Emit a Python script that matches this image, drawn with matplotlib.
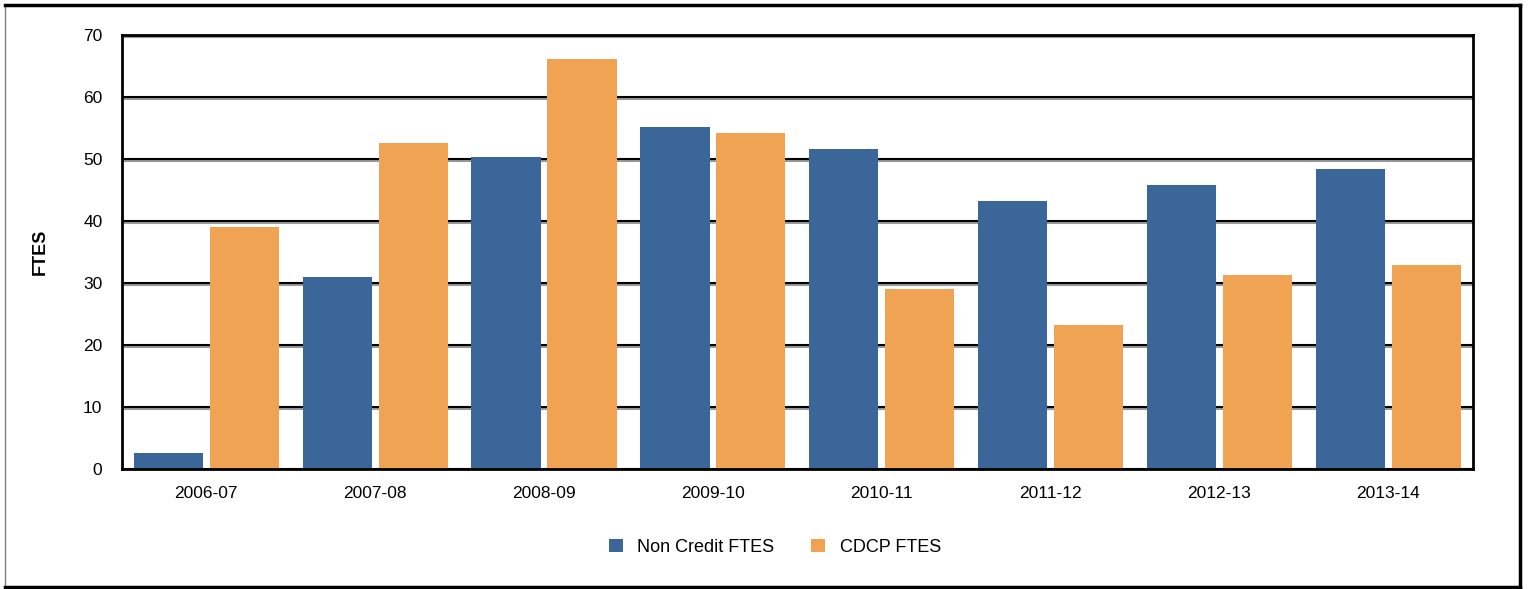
import numpy as np
import matplotlib
matplotlib.use("Agg")
import matplotlib.pyplot as plt
import matplotlib.patheffects as pe
from matplotlib.lines import Line2D

plt.rcParams['font.family'] = ['Liberation Sans', 'DejaVu Sans']

years = ["2006-07", "2007-08", "2008-09", "2009-10",
         "2010-11", "2011-12", "2012-13", "2013-14"]
non_credit = [2.6, 31.0, 50.3, 55.2, 51.6, 43.2, 45.8, 48.4]
cdcp = [39.0, 52.6, 66.1, 54.2, 29.0, 23.2, 31.3, 32.9]

blue = "#3A6699"
orange = "#F0A352"

fig = plt.figure(figsize=(15.28, 5.89), dpi=100)
ax = fig.add_axes([0.0798, 0.2037, 0.884, 0.7369])

x = np.arange(len(years))
w = 0.41
ax.bar(x - 0.225, non_credit, w, color=blue, label="Non Credit FTES", zorder=3)
ax.bar(x + 0.225, cdcp, w, color=orange, label="CDCP FTES", zorder=3)

ax.set_xlim(-0.5, len(years) - 0.5)
ax.set_ylim(0, 70)
ax.set_yticks(range(0, 71, 10))
ax.set_xticks(x)
ax.set_xticklabels(years)
ax.tick_params(length=0, labelsize=12.5, pad=12)
ax.tick_params(axis="y", pad=14)

shadow = [pe.SimpleLineShadow(offset=(1, -1.5), shadow_color="0.6", alpha=1), pe.Normal()]
ax.yaxis.grid(True, color="black", linewidth=1.5, zorder=1, path_effects=shadow)
for s in ax.spines.values():
    s.set_linewidth(2)
    s.set_color("black")
    s.set_zorder(4)

ax.set_ylabel("FTES", fontsize=13, fontweight="bold")
ax.yaxis.set_label_coords(-0.054, 0.5)

fig.legend(loc="center", bbox_to_anchor=(0.507, 0.071), ncol=2, frameon=False,
           fontsize=13, handlelength=0.8, handleheight=0.8, columnspacing=2.0,
           handletextpad=0.8)

# outer frame
fig.add_artist(Line2D([0.003, 0.003], [0.003, 0.992], color="0.5", lw=1))
fig.add_artist(Line2D([0.003, 0.9945], [0.992, 0.992], color="black", lw=2.5))
fig.add_artist(Line2D([0.9945, 0.9945], [0.992, 0.004], color="black", lw=2.5))
fig.add_artist(Line2D([0.003, 0.9945], [0.004, 0.004], color="black", lw=2.5))

fig.savefig("out.png", dpi=100)
